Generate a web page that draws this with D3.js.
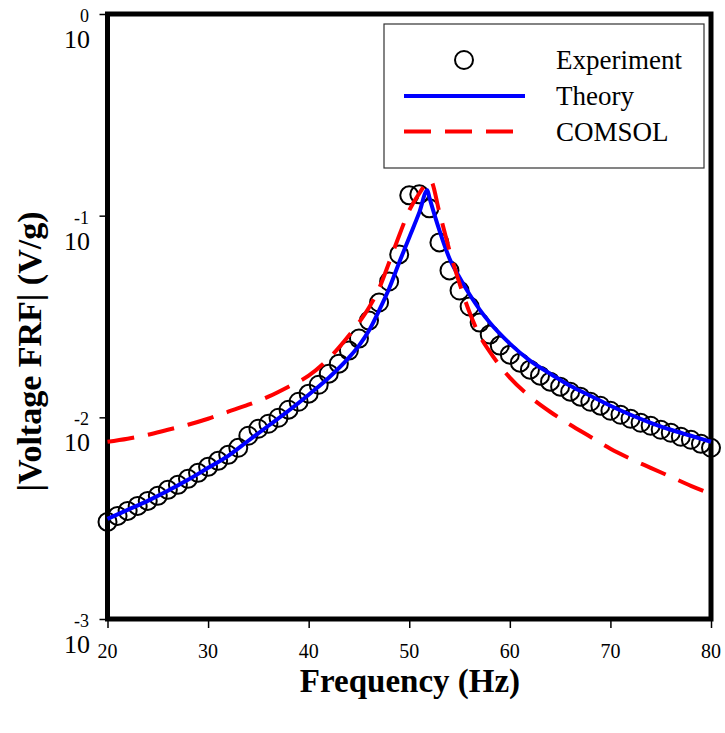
<!DOCTYPE html>
<html>
<head>
<meta charset="utf-8">
<script src="https://cdn.jsdelivr.net/npm/d3@7"></script>
<style>
  html, body { margin: 0; padding: 0; background: #fff; }
  text { font-family: "Liberation Serif", "Times New Roman", serif; }
</style>
</head>
<body>
<div id="chart"></div>
<script>
// ---------------------------
// DATA
// ---------------------------
const expFreq = d3.range(20, 81);   // one sample per Hz, 20..80
const expVolt = [
  3.03e-3, 3.245e-3, 3.436e-3, 3.637e-3, 3.852e-3, 4.079e-3, 4.369e-3, 4.627e-3, 4.955e-3, 5.306e-3,
  5.683e-3, 6.087e-3, 6.519e-3, 7.063e-3, 8.101e-3, 8.778e-3, 9.294e-3, 9.95e-3, 1.091e-2, 1.195e-2,
  1.310e-2, 1.451e-2, 1.647e-2, 1.846e-2, 2.142e-2, 2.458e-2, 3.019e-2, 3.709e-2, 4.717e-2, 6.423e-2,
  0.1261, 0.1276, 0.1087, 7.367e-2, 5.349e-2, 4.255e-2, 3.543e-2, 2.951e-2, 2.572e-2, 2.268e-2,
  2.046e-2, 1.867e-2, 1.724e-2, 1.609e-2, 1.503e-2, 1.419e-2, 1.340e-2, 1.266e-2, 1.195e-2, 1.142e-2,
  1.078e-2, 1.030e-2, 9.84e-3, 9.40e-3, 9.085e-3, 8.677e-3, 8.384e-3, 8.01e-3, 7.74e-3, 7.39e-3,
  7.063e-3
];

const theoryFreq = [20, 22, 24, 26, 28, 30, 32, 34, 36, 38, 40, 42, 44, 45, 46, 47, 48, 49, 50, 51, 51.8,
  52, 53, 54, 55, 56, 57, 58, 60, 62, 64, 66, 68, 70, 72, 74, 76, 78, 80];
const theoryVolt = [3.135e-3, 3.475e-3, 3.852e-3, 4.320e-3, 4.898e-3, 5.618e-3, 6.444e-3, 7.652e-3,
  9.085e-3, 1.078e-2, 1.295e-2, 1.573e-2, 1.978e-2, 2.268e-2, 2.693e-2, 3.385e-2, 4.353e-2, 5.861e-2,
  7.80e-2, 0.1038, 0.1336, 0.1233, 8.453e-2, 6.137e-2, 4.938e-2, 4.064e-2, 3.423e-2, 2.951e-2,
  2.321e-2, 1.911e-2, 1.647e-2, 1.435e-2, 1.280e-2, 1.142e-2, 1.030e-2, 9.40e-3, 8.677e-3, 8.101e-3,
  7.564e-3];

const comsolFreq = [20, 22, 24, 26, 28, 30, 32, 34, 36, 38, 40, 42, 44, 45, 46, 47, 48, 49, 50, 51, 52.1,
  53, 54, 55, 56, 57, 58, 59, 60, 62, 64, 66, 68, 70, 72, 74, 76, 78, 80];
const comsolVolt = [7.564e-3, 7.83e-3, 8.194e-3, 8.677e-3, 9.19e-3, 9.84e-3, 1.066e-2, 1.155e-2,
  1.266e-2, 1.419e-2, 1.609e-2, 1.955e-2, 2.543e-2, 2.951e-2, 3.503e-2, 4.353e-2, 5.861e-2, 7.98e-2,
  0.1062, 0.1291, 0.1497, 0.1038, 6.724e-2, 4.61e-2, 3.307e-2, 2.543e-2, 2.118e-2, 1.804e-2,
  1.573e-2, 1.266e-2, 1.066e-2, 9.19e-3, 8.01e-3, 6.982e-3, 6.227e-3, 5.618e-3, 5.07e-3, 4.574e-3,
  4.174e-3];

const xTicks = [20, 30, 40, 50, 60, 70, 80];
const yExponents = [0, -1, -2, -3];
const legendLabels = ["Experiment", "Theory", "COMSOL"];

// ---------------------------
// LAYOUT
// ---------------------------
const width = 725, height = 733;
const plot = { left: 107.5, right: 711, top: 14, bottom: 619 };

const svg = d3.select("#chart").append("svg")
  .attr("width", width)
  .attr("height", height);

const x = d3.scaleLinear().domain([20, 80]).range([plot.left, plot.right]);
const y = d3.scaleLog().domain([1e-3, 1]).range([plot.bottom, plot.top]);

// ---------------------------
// AXES (ticks only, labels drawn by hand for the 10^n style)
// ---------------------------
svg.append("g")
  .attr("transform", `translate(0,${plot.bottom})`)
  .call(d3.axisBottom(x).tickValues(xTicks).tickSize(9).tickFormat(""))
  .call(g => g.select(".domain").remove())
  .call(g => g.selectAll("line").attr("stroke", "#000").attr("stroke-width", 1.5));

svg.append("g")
  .attr("transform", `translate(${plot.left},0)`)
  .call(d3.axisLeft(y).tickValues(yExponents.map(e => Math.pow(10, e))).tickSize(8).tickFormat(""))
  .call(g => g.select(".domain").remove())
  .call(g => g.selectAll("line").attr("stroke", "#000").attr("stroke-width", 1.5));

svg.selectAll(".xlab")
  .data(xTicks)
  .join("text")
  .attr("class", "xlab")
  .attr("x", d => x(d))
  .attr("y", 658)
  .attr("text-anchor", "middle")
  .style("font-size", "20px")
  .text(d => d);

const ylab = svg.selectAll(".ylab")
  .data(yExponents)
  .join("g")
  .attr("class", "ylab")
  .attr("transform", d => `translate(0,${y(Math.pow(10, d))})`);

ylab.append("text")
  .attr("x", 89)
  .attr("y", 8)
  .attr("text-anchor", "end")
  .style("font-size", "18px")
  .text(d => d);

ylab.append("text")
  .attr("x", 90)
  .attr("y", 34)
  .attr("text-anchor", "end")
  .style("font-size", "26px")
  .text("10");

// axis titles
svg.append("text")
  .attr("transform", `translate(41,${(plot.top + plot.bottom) / 2 + 35}) rotate(-90)`)
  .attr("text-anchor", "middle")
  .style("font-size", "34px")
  .style("font-weight", "bold")
  .text("|Voltage FRF| (V/g)");

svg.append("text")
  .attr("x", 410)
  .attr("y", 692)
  .attr("text-anchor", "middle")
  .style("font-size", "33px")
  .style("font-weight", "bold")
  .text("Frequency (Hz)");

// ---------------------------
// FRAME (drawn under the data so edge markers sit on top)
// ---------------------------
svg.append("rect")
  .attr("x", plot.left)
  .attr("y", plot.top)
  .attr("width", plot.right - plot.left)
  .attr("height", plot.bottom - plot.top)
  .attr("fill", "none")
  .attr("stroke", "#000")
  .attr("stroke-width", 5);

// ---------------------------
// SERIES
// ---------------------------
const lineGen = d3.line()
  .x(d => x(d[0]))
  .y(d => y(d[1]))
  .curve(d3.curveMonotoneX);

svg.append("g")
  .selectAll("circle")
  .data(d3.zip(expFreq, expVolt))
  .join("circle")
  .attr("cx", d => x(d[0]))
  .attr("cy", d => y(d[1]))
  .attr("r", 9)
  .attr("fill", "none")
  .attr("stroke", "#000")
  .attr("stroke-width", 2);

svg.append("path")
  .datum(d3.zip(theoryFreq, theoryVolt))
  .attr("d", lineGen)
  .attr("fill", "none")
  .attr("stroke", "#0000ff")
  .attr("stroke-width", 4);

svg.append("path")
  .datum(d3.zip(comsolFreq, comsolVolt))
  .attr("d", lineGen)
  .attr("fill", "none")
  .attr("stroke", "#ff0000")
  .attr("stroke-width", 4)
  .attr("stroke-dasharray", "27,14");

// ---------------------------
// LEGEND
// ---------------------------
const legend = svg.append("g").attr("transform", "translate(384,24)");

legend.append("rect")
  .attr("x", 0).attr("y", 0)
  .attr("width", 320).attr("height", 144)
  .attr("fill", "#fff")
  .attr("stroke", "#333")
  .attr("stroke-width", 1.2);

legend.append("circle")
  .attr("cx", 80).attr("cy", 36).attr("r", 9)
  .attr("fill", "none").attr("stroke", "#000").attr("stroke-width", 2);

legend.append("line")
  .attr("x1", 20).attr("x2", 141).attr("y1", 72).attr("y2", 72)
  .attr("stroke", "#0000ff").attr("stroke-width", 4);

legend.append("line")
  .attr("x1", 20).attr("x2", 129).attr("y1", 107.5).attr("y2", 107.5)
  .attr("stroke", "#ff0000").attr("stroke-width", 4)
  .attr("stroke-dasharray", "27,14");

legend.selectAll(".leg-text")
  .data(legendLabels)
  .join("text")
  .attr("class", "leg-text")
  .attr("x", 172)
  .attr("y", (d, i) => 45 + i * 36)
  .style("font-size", "27px")
  .text(d => d);
</script>
</body>
</html>
